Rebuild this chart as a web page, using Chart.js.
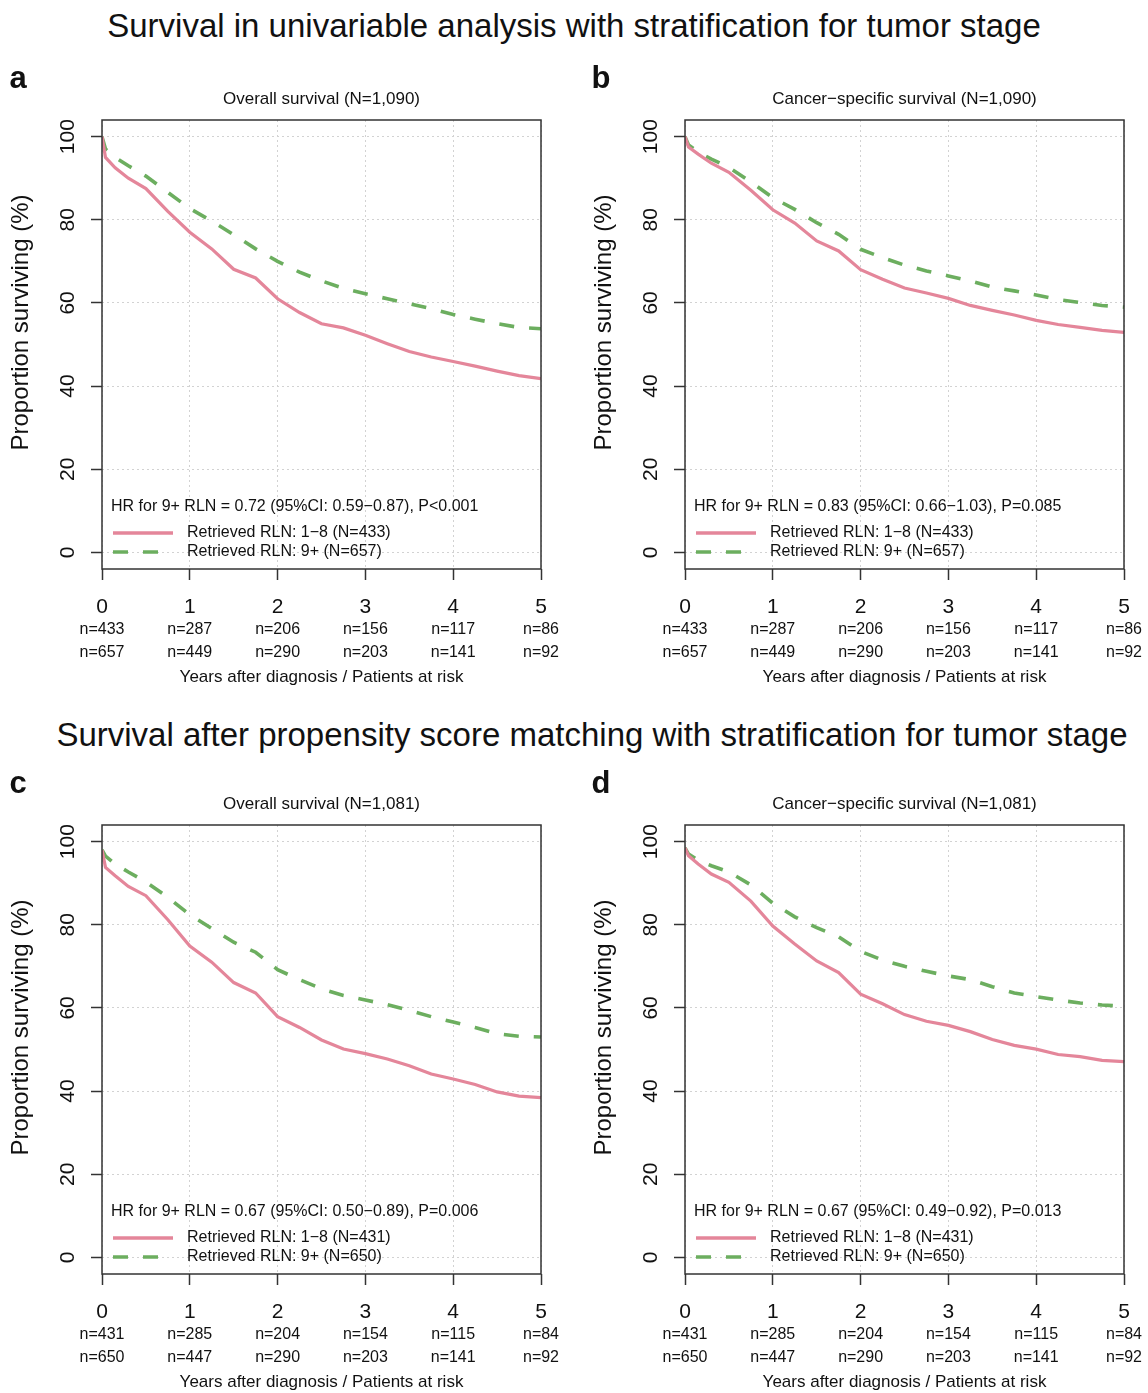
<!DOCTYPE html>
<html>
<head>
<meta charset="utf-8">
<script src="https://cdn.jsdelivr.net/npm/chart.js@4.4.1/dist/chart.umd.min.js"></script>
<style>
  body { margin: 0; background: #fff; width: 1148px; height: 1393px; overflow: hidden; position: relative;
         font-family: "Liberation Sans", Arial, sans-serif; }
  .title { position: absolute; left: 0; width: 1148px; text-align: center; font-size: 33px; line-height: 1; color: #111; }
  canvas { position: absolute; }
</style>
</head>
<body>
<div class="title" style="top:9px">Survival in univariable analysis with stratification for tumor stage</div>
<div class="title" style="top:718px;left:18px">Survival after propensity score matching with stratification for tumor stage</div>
<canvas id="panelA" width="574" height="640" style="left:0;top:60px"></canvas>
<canvas id="panelB" width="565" height="640" style="left:583px;top:60px"></canvas>
<canvas id="panelC" width="574" height="630" style="left:0;top:765px"></canvas>
<canvas id="panelD" width="565" height="630" style="left:583px;top:765px"></canvas>
<script>
// years after diagnosis at which the curves were read
const years = [0, 0.04, 0.15, 0.3, 0.5, 0.75, 1, 1.25, 1.5, 1.75, 2, 2.25, 2.5, 2.75, 3, 3.25, 3.5, 3.75, 4, 4.25, 4.5, 4.75, 5];

// survival (%) per panel: rln18 = Retrieved RLN 1-8, rln9 = Retrieved RLN 9+
const osUniRln18  = [100, 95, 92.5, 90, 87.5, 82, 77, 73, 68.1, 66, 61, 57.7, 55, 54, 52.2, 50.2, 48.3, 47, 45.9, 44.8, 43.6, 42.5, 41.8];
const osUniRln9   = [100, 97, 95, 93, 90.5, 86.6, 82.7, 79.7, 76.4, 73, 70, 67.4, 65.3, 63.5, 62.2, 61, 59.8, 58.6, 57.2, 56.1, 55, 54.1, 53.8];
const cssUniRln18 = [100, 97.5, 95.8, 93.6, 91.4, 87.1, 82.4, 79.2, 74.9, 72.5, 68, 65.7, 63.6, 62.4, 61.1, 59.4, 58.2, 57.1, 55.8, 54.8, 54.1, 53.4, 52.9];
const cssUniRln9  = [100, 98, 96.3, 94.6, 92.6, 89.1, 85.3, 82.5, 79.3, 76.5, 72.9, 70.9, 69.1, 67.7, 66.5, 65.3, 63.8, 62.9, 61.9, 60.8, 60.1, 59.4, 59];
const osPsmRln18  = [98, 93.8, 91.8, 89.2, 87, 81.2, 74.9, 71, 66.1, 63.6, 57.9, 55.3, 52.3, 50.1, 49, 47.7, 46.1, 44.1, 42.9, 41.6, 39.8, 38.8, 38.4];
const osPsmRln9   = [98, 96.5, 94.6, 92.7, 90.3, 86.6, 82.4, 79.1, 75.8, 73.4, 69.2, 66.8, 64.6, 63, 61.9, 60.8, 59.4, 57.9, 56.6, 55.3, 53.8, 53.2, 53];
const cssPsmRln18 = [98.5, 96.6, 94.6, 92.2, 90.2, 85.7, 79.7, 75.4, 71.3, 68.5, 63.3, 61, 58.4, 56.8, 55.8, 54.3, 52.4, 51, 50.1, 48.8, 48.3, 47.4, 47.1];
const cssPsmRln9  = [98.5, 97, 95.5, 94.2, 92.7, 89.6, 85.2, 81.9, 79.3, 77.1, 73.6, 71.5, 70, 68.8, 67.7, 66.8, 65.1, 63.6, 62.7, 61.9, 61.2, 60.7, 60.4];

// patients at risk at each year
const riskUni18 = [433, 287, 206, 156, 117, 86];
const riskUni9  = [657, 449, 290, 203, 141, 92];
const riskPsm18 = [431, 285, 204, 154, 115, 84];
const riskPsm9  = [650, 447, 290, 203, 141, 92];

const xTicks = [0, 1, 2, 3, 4, 5];
const yTicks = [0, 20, 40, 60, 80, 100];

const RED = '#e4869a';
const GREEN = '#6cae5f';
const FONT = '"Liberation Sans", Arial, sans-serif';

const decor = {
  id: 'decor',
  afterDraw(chart, args, o) {
    const { ctx, chartArea: a, scales: { x, y } } = chart;
    const cx = (a.left + a.right) / 2;
    ctx.save();
    ctx.strokeStyle = '#333';
    ctx.lineWidth = 1.5;
    ctx.strokeRect(a.left, a.top, a.right - a.left, a.bottom - a.top);

    ctx.fillStyle = '#111';
    ctx.textAlign = 'center';
    ctx.textBaseline = 'middle';
    ctx.font = '17px ' + FONT;
    ctx.fillText(o.subtitle, cx, a.top - 21);
    ctx.font = 'bold 31px ' + FONT;
    ctx.fillText(o.letter, a.left - 84, a.top - 41);

    ctx.font = '21px ' + FONT;
    yTicks.forEach((v) => {
      ctx.save();
      ctx.translate(a.left - 34, y.getPixelForValue(v));
      ctx.rotate(-Math.PI / 2);
      ctx.fillText(String(v), 0, 0);
      ctx.restore();
    });
    ctx.save();
    ctx.translate(a.left - 81, (a.top + a.bottom) / 2 - 22);
    ctx.rotate(-Math.PI / 2);
    ctx.font = '24px ' + FONT;
    ctx.fillText('Proportion surviving (%)', 0, 0);
    ctx.restore();

    xTicks.forEach((v, i) => {
      const px = x.getPixelForValue(v);
      ctx.font = '21px ' + FONT;
      ctx.fillText(String(v), px, a.bottom + 38);
      ctx.font = '16px ' + FONT;
      ctx.fillText('n=' + o.risk1[i], px, a.bottom + 61);
      ctx.fillText('n=' + o.risk2[i], px, a.bottom + 84);
    });
    ctx.font = '17px ' + FONT;
    ctx.fillText('Years after diagnosis / Patients at risk', cx, a.bottom + 108);

    ctx.textAlign = 'left';
    ctx.font = '16px ' + FONT;
    ctx.fillText(o.hr, a.left + 9, a.bottom - 62);
    const rows = [
      { label: o.label1, color: RED, dash: [], end: 71, y: a.bottom - 36 },
      { label: o.label2, color: GREEN, dash: [15, 15], end: 56, y: a.bottom - 17 },
    ];
    rows.forEach((r) => {
      ctx.save();
      ctx.strokeStyle = r.color;
      ctx.lineWidth = 3.5;
      ctx.setLineDash(r.dash);
      ctx.beginPath();
      ctx.moveTo(a.left + 11, r.y);
      ctx.lineTo(a.left + r.end, r.y);
      ctx.stroke();
      ctx.restore();
      ctx.fillText(r.label, a.left + 85, r.y);
    });
    ctx.restore();
  },
};

function makePanel(id, rln18, rln9, info) {
  const canvas = document.getElementById(id);
  const padRight = canvas.width - 541;
  const axisH = canvas.height - 509;
  new Chart(canvas, {
    type: 'line',
    data: {
      datasets: [
        {
          data: years.map((t, i) => ({ x: t, y: rln18[i] })),
          borderColor: RED,
          borderWidth: 3.2,
          pointRadius: 0,
          tension: 0,
        },
        {
          data: years.map((t, i) => ({ x: t, y: rln9[i] })),
          borderColor: GREEN,
          borderWidth: 3.6,
          borderDash: [15, 15],
          pointRadius: 0,
          tension: 0,
        },
      ],
    },
    options: {
      responsive: false,
      animation: false,
      events: [],
      layout: { padding: { left: 0, top: 60, right: padRight, bottom: 0 } },
      plugins: { legend: { display: false }, tooltip: { enabled: false }, decor: info },
      scales: {
        x: {
          type: 'linear',
          min: 0,
          max: 5,
          afterBuildTicks: (s) => { s.ticks = xTicks.map((v) => ({ value: v })); },
          afterFit: (s) => { s.height = axisH; },
          ticks: { display: false },
          grid: { color: '#d2d2d2', tickColor: '#333', tickLength: 11, tickWidth: 1.5 },
          border: { display: false, dash: [2, 3] },
        },
        y: {
          min: -4,
          max: 104,
          afterBuildTicks: (s) => { s.ticks = yTicks.map((v) => ({ value: v })); },
          afterFit: (s) => { s.width = 102; },
          ticks: { display: false },
          grid: { color: '#d2d2d2', tickColor: '#333', tickLength: 11, tickWidth: 1.5 },
          border: { display: false, dash: [2, 3] },
        },
      },
    },
    plugins: [decor],
  });
}

makePanel('panelA', osUniRln18, osUniRln9, {
  letter: 'a', subtitle: 'Overall survival (N=1,090)',
  hr: 'HR for 9+ RLN = 0.72 (95%CI: 0.59\u22120.87), P<0.001',
  label1: 'Retrieved RLN: 1\u22128 (N=433)', label2: 'Retrieved RLN: 9+ (N=657)',
  risk1: riskUni18, risk2: riskUni9,
});
makePanel('panelB', cssUniRln18, cssUniRln9, {
  letter: 'b', subtitle: 'Cancer\u2212specific survival (N=1,090)',
  hr: 'HR for 9+ RLN = 0.83 (95%CI: 0.66\u22121.03), P=0.085',
  label1: 'Retrieved RLN: 1\u22128 (N=433)', label2: 'Retrieved RLN: 9+ (N=657)',
  risk1: riskUni18, risk2: riskUni9,
});
makePanel('panelC', osPsmRln18, osPsmRln9, {
  letter: 'c', subtitle: 'Overall survival (N=1,081)',
  hr: 'HR for 9+ RLN = 0.67 (95%CI: 0.50\u22120.89), P=0.006',
  label1: 'Retrieved RLN: 1\u22128 (N=431)', label2: 'Retrieved RLN: 9+ (N=650)',
  risk1: riskPsm18, risk2: riskPsm9,
});
makePanel('panelD', cssPsmRln18, cssPsmRln9, {
  letter: 'd', subtitle: 'Cancer\u2212specific survival (N=1,081)',
  hr: 'HR for 9+ RLN = 0.67 (95%CI: 0.49\u22120.92), P=0.013',
  label1: 'Retrieved RLN: 1\u22128 (N=431)', label2: 'Retrieved RLN: 9+ (N=650)',
  risk1: riskPsm18, risk2: riskPsm9,
});
</script>
</body>
</html>
